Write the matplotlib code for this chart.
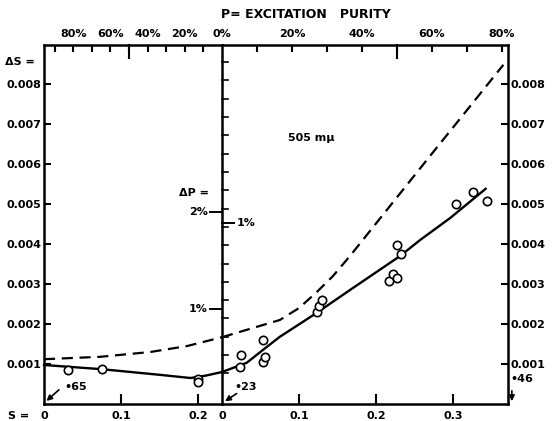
import matplotlib
matplotlib.use("Agg")
import matplotlib.pyplot as plt

plt.rcParams['font.family'] = ['DejaVu Sans']
plt.rcParams['font.weight'] = 'bold'

# left half: S from 0 to the edge of the spectrum locus
s_left_pts = [0.031, 0.075, 0.2, 0.2]
ds_left_pts = [0.00085, 0.000875, 0.00063, 0.00055]
s_left_fit = [0, 0.075, 0.15, 0.19, 0.21, 0.231]
ds_left_fit = [0.000975, 0.00087, 0.00073, 0.00065, 0.00071, 0.0008]
s_left_dash = [0, 0.073, 0.138, 0.186, 0.231]
ds_left_dash = [0.00112, 0.00118, 0.0013, 0.00145, 0.00167]

# right half: 505 mμ
s_right_pts = [0.023, 0.025, 0.053, 0.053, 0.056, 0.123, 0.126, 0.13,
               0.217, 0.222, 0.227, 0.227, 0.232, 0.304, 0.326, 0.344]
ds_right_pts = [0.00093, 0.00123, 0.0016, 0.00105, 0.00118, 0.0023, 0.00245, 0.0026,
                0.00308, 0.00325, 0.00315, 0.00398, 0.00375, 0.005, 0.0053, 0.00508]
s_right_fit = [0, 0.032, 0.053, 0.075, 0.123, 0.166, 0.231, 0.257, 0.296, 0.342]
ds_right_fit = [0.0008, 0.00103, 0.00135, 0.00168, 0.00228, 0.00285, 0.0037, 0.0041, 0.00465, 0.00538]
s_right_dash = [0, 0.04, 0.075, 0.1, 0.123, 0.144, 0.166, 0.22, 0.274, 0.32, 0.365]
ds_right_dash = [0.00167, 0.0019, 0.0021, 0.0024, 0.0028, 0.0032, 0.0037, 0.005, 0.0063, 0.0074, 0.00848]

ds_ticks = [0.001, 0.002, 0.003, 0.004, 0.005, 0.006, 0.007, 0.008]
ds_labels = ['0.001', '0.002', '0.003', '0.004', '0.005', '0.006', '0.007', '0.008']
p_left_ticks = [90, 80, 70, 60, 50, 40, 30, 20, 10]
p_left_labels = ['80%', '60%', '40%', '20%', '0%']
p_right_ticks = [10, 20, 30, 40, 50, 60, 70, 80]
p_right_labels = ['20%', '40%', '60%', '80%']

YMAX = 0.008975
fig = plt.figure(figsize=(5.59, 4.21), dpi=100)
axL = fig.add_axes([44/559, 1-404/421, 178/559, 359/421])
axR = fig.add_axes([222/559, 1-404/421, 286/559, 359/421])

txt = dict(fontsize=8, fontweight='bold', color='black')
arrow = dict(arrowstyle='-|>', color='black', lw=1.2, mutation_scale=8)

for ax in (axL, axR):
    ax.set_ylim(0, YMAX)
    for sp in ax.spines.values():
        sp.set_linewidth(1.8)
    ax.tick_params(direction='in', width=1.5, length=5, labelsize=8)

axL.set_xlim(0, 0.231)
axR.set_xlim(0, 0.371)
axL.spines['right'].set_visible(False)

# left ΔS scale
axL.set_yticks(ds_ticks)
axL.set_yticklabels(ds_labels, fontweight='bold')
axL.tick_params(axis='y', pad=2)
axL.set_xticks([0.1, 0.2])
axL.set_xticklabels([])
axL.tick_params(axis='x', length=7)

# right ΔS scale
axR.yaxis.tick_right()
axR.set_yticks(ds_ticks)
axR.set_yticklabels(ds_labels, fontweight='bold')
axR.tick_params(axis='y', pad=2)
axR.set_xticks([0.1, 0.2, 0.3])
axR.set_xticklabels([])
axR.tick_params(axis='x', length=7)

# S labels along the bottom
for x, lab in [(0, '0'), (0.1, '0.1'), (0.2, '0.2')]:
    axL.text(x, -0.0003, lab, ha='center', va='center', **txt)
axL.text(-0.2, -0.0003, 'S =', ha='left', va='center', transform=axL.get_yaxis_transform(), **txt)
for x, lab in [(0.0, '0'), (0.1, '0.1'), (0.2, '0.2'), (0.3, '0.3')]:
    axR.text(x, -0.0003, lab, ha='center', va='center', **txt)

# excitation purity scale along the top
topL = axL.twiny()
topL.set_xlim(178/1.86, 0)
topL.set_xticks(p_left_ticks)
topL.set_xticklabels([])
topL.tick_params(direction='in', length=5, width=1.5)
for sp in topL.spines.values():
    sp.set_visible(False)
for p, lab in zip([80, 60, 40, 20, 0], p_left_labels):
    topL.text(p, 1.018, lab, ha='center', va='bottom', transform=topL.get_xaxis_transform(), **txt)
topL.plot([50, 50], [1, 0.965], color='black', lw=1.5, transform=topL.get_xaxis_transform(), clip_on=False)

topR = axR.twiny()
topR.set_xlim(0, 286/3.5)
topR.set_xticks(p_right_ticks)
topR.set_xticklabels([])
topR.tick_params(direction='in', length=5, width=1.5)
for sp in topR.spines.values():
    sp.set_visible(False)
for p, lab in zip([20, 40, 60, 80], p_right_labels):
    topR.text(p, 1.018, lab, ha='center', va='bottom', transform=topR.get_xaxis_transform(), **txt)
topR.plot([50, 50], [1, 0.965], color='black', lw=1.5, transform=topR.get_xaxis_transform(), clip_on=False)

fig.text(306/559, 1-15/421, 'P= EXCITATION   PURITY', ha='center', va='center', fontsize=9,
         fontweight='bold')
fig.text(5/559, 1-62/421, 'ΔS =', ha='left', va='center', **txt)

# ΔP scale on the middle axis
yx = axR.get_yaxis_transform()
mid_ticks = [0.00855 - 0.000458 * k for k in range(18)]
for y in mid_ticks:
    axR.plot([0, 6/286], [y, y], color='black', lw=1.2, transform=yx, clip_on=False)
for y in [0.0048, 0.002375]:
    axR.plot([-12/286, 0], [y, y], color='black', lw=1.4, transform=yx, clip_on=False)
axR.plot([0, 12/286], [0.004525, 0.004525], color='black', lw=1.4, transform=yx, clip_on=False)
axR.text(-14/286, 0.0048, '2%', ha='right', va='center', transform=yx, **txt)
axR.text(-14/286, 0.002375, '1%', ha='right', va='center', transform=yx, **txt)
axR.text(15/286, 0.004525, '1%', ha='left', va='center', transform=yx, **txt)
axR.text(-13/286, 0.00527, 'ΔP =', ha='right', va='center', transform=yx, **txt)

# fitted curves and observations
axL.plot(s_left_fit, ds_left_fit, color='black', lw=1.7, clip_on=False)
axL.plot(s_left_dash, ds_left_dash, color='black', lw=1.6, dashes=(5, 3), clip_on=False)
axL.plot(s_left_pts, ds_left_pts, 'o', mfc='white', mec='black', mew=1.2, ms=6)
axR.plot(s_right_fit, ds_right_fit, color='black', lw=1.7)
axR.plot(s_right_dash, ds_right_dash, color='black', lw=1.6, dashes=(5, 3))
axR.plot(s_right_pts, ds_right_pts, 'o', mfc='white', mec='black', mew=1.2, ms=6, clip_on=False)

axR.text(0.116, 0.00665, '505 mμ', ha='center', va='center', **txt)

# sample numbers
axL.annotate('', xy=(0.0005, 0.00003), xytext=(0.022, 0.0004), arrowprops=arrow)
axL.text(0.027, 0.00042, '•65', ha='left', va='center', **txt)
axR.annotate('', xy=(0.001, 0.00003), xytext=(0.022, 0.0003), arrowprops=arrow)
axR.text(0.016, 0.00042, '•23', ha='left', va='center', **txt)
axR.annotate('', xy=(0.376, 0.0), xytext=(0.376, 0.0004), annotation_clip=False, arrowprops=arrow)
axR.text(0.374, 0.00062, '•46', ha='left', va='center', **txt)

fig.savefig('out.png', dpi=100)
